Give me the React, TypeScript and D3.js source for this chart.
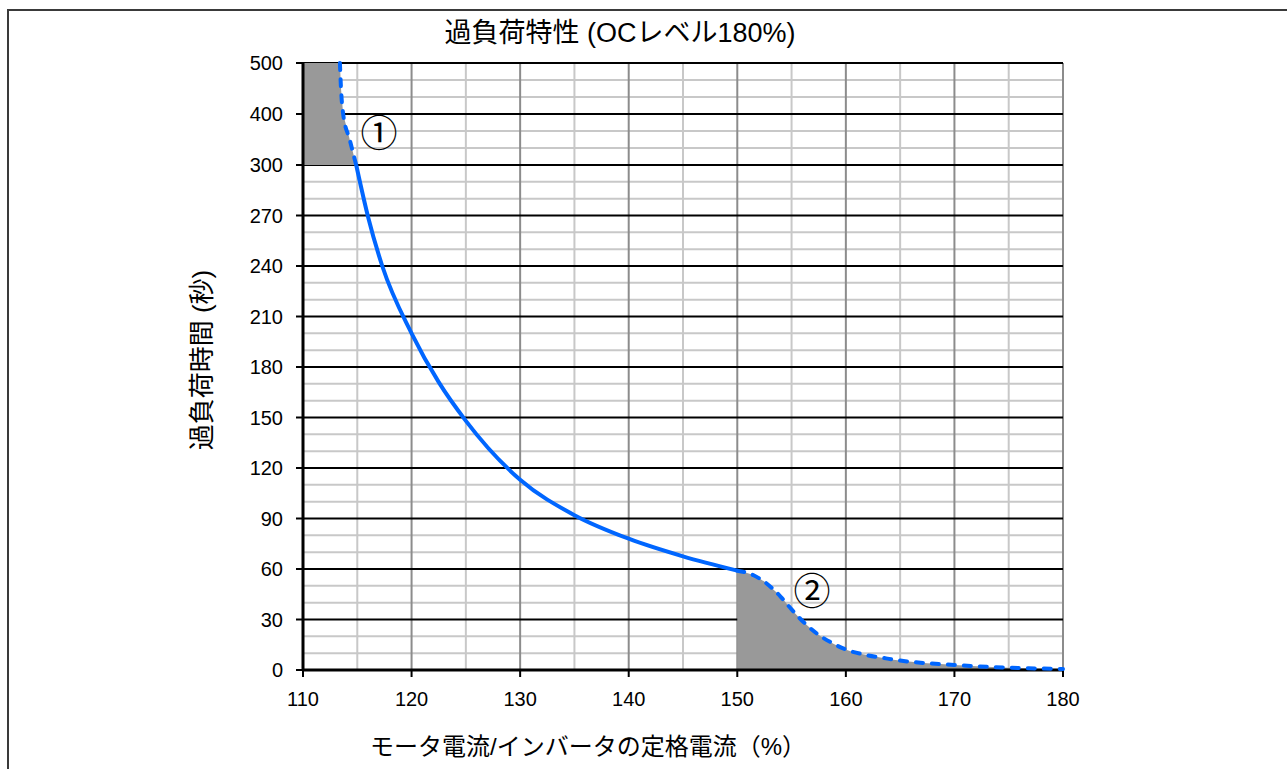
import React from 'react';
import * as d3 from 'd3';

// chart values
const xTicks = [110, 120, 130, 140, 150, 160, 170, 180];
const xMinor = [115, 125, 135, 145, 155, 165, 175];
const yTicks = [0, 30, 60, 90, 120, 150, 180, 210, 240, 270, 300, 400, 500];

// top dashed part (region ①)
const topX = [113.4, 113.5, 113.7, 114.3, 114.9];
const topY = [500, 450, 400, 350, 300];

// solid main curve
const mainX = [114.9, 116, 117.3, 120, 122.5, 125, 130, 135, 140, 145, 150];
const mainY = [300, 269, 240, 200, 171, 148, 113, 92, 78, 67.5, 59];

// tail dashed part (region ②)
const tailX = [150, 151.5, 152.7, 154, 155, 156.1, 157.3, 158.8, 160.1, 161.9, 163.7, 165, 170, 175, 180];
const tailY = [59, 56.3, 51.4, 43.5, 36, 28.5, 21.8, 15.8, 11.9, 8.9, 6.9, 5.6, 3, 1.4, 0.6];

const W = 1287;
const H = 769;
const FONT = '"Liberation Sans", Arial, "Noto Sans CJK JP", sans-serif';
const JP = '"Noto Sans CJK JP", "Liberation Sans", sans-serif';
const BLUE = '#0066ff';

const App: React.FC = () => {
  const x = d3.scaleLinear().domain([110, 180]).range([303, 1063]);
  // broken scale: 0-300 step 30, then 300-500 step 100, same pixel spacing
  const y = d3.scaleLinear().domain([0, 300, 500]).range([670, 165, 63]);

  const yMinor: number[] = [];
  for (let i = 0; i < yTicks.length - 1; i++) {
    const a = yTicks[i], b = yTicks[i + 1];
    yMinor.push(a + (b - a) / 3, a + (2 * (b - a)) / 3);
  }

  const zip = (xs: number[], ys: number[]) => xs.map((v, i) => [v, ys[i]] as [number, number]);
  const topPts = zip(topX, topY);
  const mainPts = zip(mainX, mainY);
  const tailPts = zip(tailX, tailY);

  const line = d3.line<[number, number]>()
    .x(d => x(d[0]))
    .y(d => y(d[1]))
    .curve(d3.curveMonotoneX);

  const area1 = d3.area<[number, number]>()
    .y(d => y(d[1]))
    .x0(x(110))
    .x1(d => x(d[0]));

  const area2 = d3.area<[number, number]>()
    .x(d => x(d[0]))
    .y0(y(0))
    .y1(d => y(d[1]))
    .curve(d3.curveMonotoneX);

  const [x0, x1] = x.range();
  const [yb, yt] = [y(0), y(500)];

  return (
    <svg width={W} height={H} style={{ position: 'absolute', left: 0, top: 0, background: '#fff' }}>
      {/* outer frame */}
      <path d={`M8,${H} V10 H${W}`} fill="none" stroke="#3a3a3a" strokeWidth={2} />

      {/* title */}
      <text x={620} y={42} textAnchor="middle" fontFamily={FONT} fontSize={27} fill="#000">
        過負荷特性 (OCレベル180%)
      </text>

      {/* minor grid */}
      {yMinor.map(v => (
        <line key={'ym' + v} x1={x0} x2={x1} y1={y(v)} y2={y(v)} stroke="#c8c8c8" strokeWidth={2} />
      ))}
      {xMinor.map(v => (
        <line key={'xm' + v} x1={x(v)} x2={x(v)} y1={yb} y2={yt} stroke="#c8c8c8" strokeWidth={2} />
      ))}
      {/* major vertical grid */}
      {xTicks.slice(1).map(v => (
        <line key={'xg' + v} x1={x(v)} x2={x(v)} y1={yb} y2={yt} stroke="#8c8c8c" strokeWidth={2} />
      ))}
      {/* major horizontal grid */}
      {yTicks.slice(1).map(v => (
        <line key={'yg' + v} x1={x0} x2={x1} y1={y(v)} y2={y(v)} stroke="#000" strokeWidth={2} />
      ))}

      {/* shaded regions */}
      <path d={area1(topPts) || ''} fill="#999999" />
      <path d={area2(tailPts) || ''} fill="#999999" />

      {/* axes */}
      <line x1={x0} x2={x0} y1={yt - 1} y2={yb + 1} stroke="#000" strokeWidth={3} />
      <line x1={x0 - 1} x2={x1 + 1} y1={yb} y2={yb} stroke="#000" strokeWidth={3} />
      {yTicks.map(v => (
        <line key={'yt' + v} x1={x0 - 7} x2={x0} y1={y(v)} y2={y(v)} stroke="#000" strokeWidth={2} />
      ))}
      {xTicks.map(v => (
        <line key={'xt' + v} x1={x(v)} x2={x(v)} y1={yb} y2={yb + 7} stroke="#000" strokeWidth={2} />
      ))}

      {/* tick labels */}
      {yTicks.map(v => (
        <text key={'yl' + v} x={283} y={y(v)} dy="0.36em" textAnchor="end" fontFamily={FONT} fontSize={20} fill="#000">
          {v}
        </text>
      ))}
      {xTicks.map(v => (
        <text key={'xl' + v} x={x(v)} y={706} textAnchor="middle" fontFamily={FONT} fontSize={20} fill="#000">
          {v}
        </text>
      ))}

      {/* curve */}
      <path d={line(topPts) || ''} fill="none" stroke={BLUE} strokeWidth={4} strokeDasharray="7,9" strokeLinecap="round" />
      <path d={line(mainPts) || ''} fill="none" stroke={BLUE} strokeWidth={4} />
      <path d={line(tailPts) || ''} fill="none" stroke={BLUE} strokeWidth={4} strokeDasharray="7,9" strokeLinecap="round" />

      {/* region markers */}
      <text x={379} y={134} dy="0.35em" textAnchor="middle" fontFamily={JP} fontSize={37} fill="#000">①</text>
      <text x={812} y={592} dy="0.35em" textAnchor="middle" fontFamily={JP} fontSize={37} fill="#000">②</text>

      {/* axis titles */}
      <text transform="translate(202,360) rotate(-90)" textAnchor="middle" dy="0.35em" fontFamily={FONT} fontSize={26} fill="#000">
        過負荷時間 (秒)
      </text>
      <text x={588} y={755} textAnchor="middle" fontFamily={FONT} fontSize={24} fill="#000">
        モータ電流/インバータの定格電流（%）
      </text>
    </svg>
  );
};

export default App;
